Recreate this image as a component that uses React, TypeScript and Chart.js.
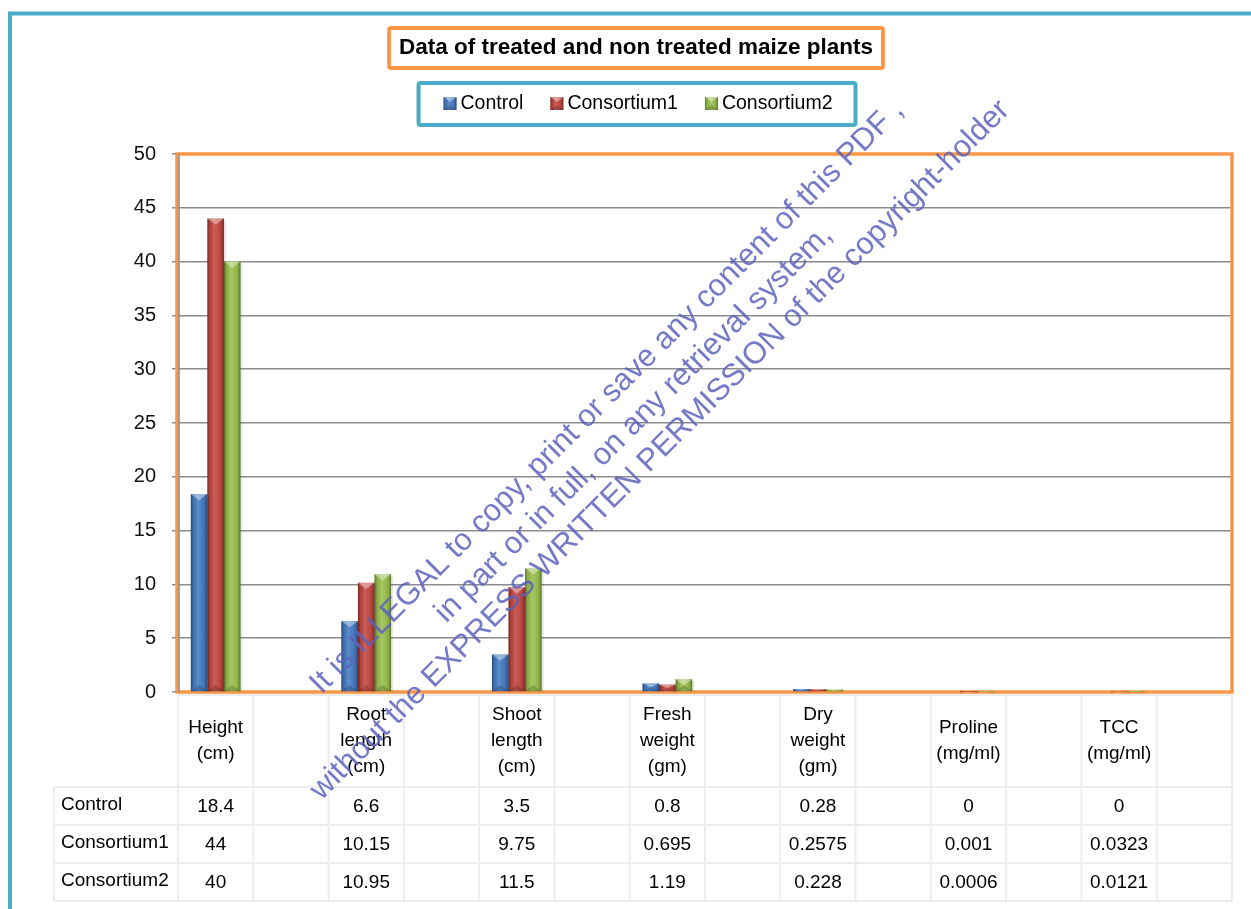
import React, { useEffect, useRef } from 'react';
import { Chart, registerables } from 'chart.js';

Chart.register(...registerables);

// ---- data ----
const chartTitle = 'Data of treated and non treated maize plants';
const categoryLabels: string[][] = [
  ['Height', '(cm)'],
  ['Root', 'length', '(cm)'],
  ['Shoot', 'length', '(cm)'],
  ['Fresh', 'weight', '(gm)'],
  ['Dry', 'weight', '(gm)'],
  ['Proline', '(mg/ml)'],
  ['TCC', '(mg/ml)'],
];
const seriesNames = ['Control', 'Consortium1', 'Consortium2'];
const controlValues = [18.4, 6.6, 3.5, 0.8, 0.28, 0, 0];
const consortium1Values = [44, 10.15, 9.75, 0.695, 0.2575, 0.001, 0.0323];
const consortium2Values = [40, 10.95, 11.5, 1.19, 0.228, 0.0006, 0.0121];
const yMin = 0;
const yMax = 50;
const yStep = 5;
const watermarkLines = [
  'It is ILLEGAL to copy, print or save any content of this PDF ,',
  'in part or in full, on any retrieval system,',
  'without the EXPRESS WRITTEN PERMISSION of the copyright-holder',
];

// ---- styling ----
const FONT = '"Liberation Sans", Arial, sans-serif';
const seriesColors = ['#4379c0', '#c0453f', '#97bd4a'];
const ORANGE = '#f79646';
const TEAL = '#4bacc6';

// every category is followed by an empty spacer column
const slotLabels: string[] = [];
categoryLabels.forEach((c) => {
  slotLabels.push(c.join(' '));
  slotLabels.push('');
});
const spread = (vals: number[]) => {
  const out: (number | null)[] = [];
  vals.forEach((v) => {
    out.push(v);
    out.push(null);
  });
  return out;
};
const seriesValues = [controlValues, consortium1Values, consortium2Values];

function drawBevel(ctx: CanvasRenderingContext2D, left: number, top: number, w: number, h: number) {
  if (h <= 0 || w <= 0) return;
  const g = ctx.createLinearGradient(left, 0, left + w, 0);
  g.addColorStop(0, 'rgba(0,0,0,0.38)');
  g.addColorStop(0.15, 'rgba(0,0,0,0.08)');
  g.addColorStop(0.4, 'rgba(255,255,255,0.14)');
  g.addColorStop(0.6, 'rgba(255,255,255,0.06)');
  g.addColorStop(0.85, 'rgba(0,0,0,0.1)');
  g.addColorStop(1, 'rgba(0,0,0,0.4)');
  ctx.fillStyle = g;
  ctx.fillRect(left, top, w, h);
  const th = Math.min(w * 0.38, h / 2);
  // light pyramid cap
  ctx.fillStyle = 'rgba(255,255,255,0.4)';
  ctx.beginPath();
  ctx.moveTo(left, top);
  ctx.lineTo(left + w, top);
  ctx.lineTo(left + w / 2, top + th);
  ctx.closePath();
  ctx.fill();
  // dark base
  ctx.fillStyle = 'rgba(0,0,0,0.18)';
  ctx.beginPath();
  ctx.moveTo(left, top + h);
  ctx.lineTo(left + w, top + h);
  ctx.lineTo(left + w / 2, top + h - th);
  ctx.closePath();
  ctx.fill();
}

const decorPlugin = {
  id: 'decor',
  beforeDatasetsDraw(chart: any) {
    const { ctx, chartArea: a } = chart;
    ctx.save();
    ctx.strokeStyle = ORANGE;
    ctx.lineWidth = 3.5;
    ctx.strokeRect(a.left - 1, a.top, a.right - a.left + 1, a.bottom - a.top);
    ctx.strokeStyle = '#8c8c8c';
    ctx.lineWidth = 1.5;
    ctx.beginPath();
    ctx.moveTo(a.left + 1, a.top);
    ctx.lineTo(a.left + 1, a.bottom);
    ctx.stroke();
    ctx.restore();
  },
  afterDatasetsDraw(chart: any) {
    const { ctx } = chart;
    ctx.save();
    chart.data.datasets.forEach((ds: any, di: number) => {
      const meta = chart.getDatasetMeta(di);
      meta.data.forEach((el: any, i: number) => {
        if (ds.data[i] == null) return;
        const p = el.getProps(['x', 'y', 'base', 'width'], true);
        const left = p.x - p.width / 2;
        const top = Math.min(p.y, p.base);
        const h = Math.abs(p.base - p.y);
        // soft shadow on the right side
        ctx.fillStyle = 'rgba(0,0,0,0.10)';
        ctx.fillRect(left + p.width, top + 2, 2, h - 2);
        drawBevel(ctx, left, top, p.width, h);
      });
    });
    ctx.restore();
  },
  afterDraw(chart: any) {
    const { ctx } = chart;
    const xs = chart.scales.x;
    const slots = slotLabels.length;
    const slotW = (xs.right - xs.left) / slots;
    ctx.save();

    // ---- data table ----
    const headTop = 695;
    const rowLines = [787, 825, 863, 901];
    const tableLeft = 54;
    ctx.strokeStyle = '#ededed';
    ctx.lineWidth = 2;
    ctx.beginPath();
    for (let i = 0; i <= slots; i++) {
      const bx = xs.left + i * slotW;
      ctx.moveTo(bx, headTop);
      ctx.lineTo(bx, rowLines[3]);
    }
    ctx.moveTo(tableLeft, rowLines[0]);
    ctx.lineTo(tableLeft, rowLines[3]);
    ctx.moveTo(xs.left, headTop);
    ctx.lineTo(xs.right, headTop);
    rowLines.forEach((ry) => {
      ctx.moveTo(tableLeft, ry);
      ctx.lineTo(xs.right, ry);
    });
    ctx.stroke();

    ctx.fillStyle = '#000';
    ctx.font = `19px ${FONT}`;
    ctx.textAlign = 'center';
    ctx.textBaseline = 'middle';
    const headMid = (headTop + rowLines[0]) / 2;
    const lh = 26;
    categoryLabels.forEach((lines, ci) => {
      const cx = xs.getPixelForValue(ci * 2);
      const y0 = headMid - ((lines.length - 1) * lh) / 2;
      lines.forEach((t, li) => ctx.fillText(t, cx, y0 + li * lh));
    });
    seriesValues.forEach((vals, si) => {
      const cy = (rowLines[si] + rowLines[si + 1]) / 2 + 1;
      vals.forEach((v, ci) => {
        ctx.fillText(String(v), xs.getPixelForValue(ci * 2), cy);
      });
    });
    ctx.textAlign = 'left';
    seriesNames.forEach((n, si) => {
      const cy = (rowLines[si] + rowLines[si + 1]) / 2 - 1;
      ctx.fillText(n, 61, cy);
    });

    // ---- title box ----
    const centerX = 636;
    ctx.font = `bold 22.5px ${FONT}`;
    const tw = ctx.measureText(chartTitle).width;
    ctx.strokeStyle = ORANGE;
    ctx.lineWidth = 4;
    ctx.beginPath();
    ctx.roundRect(centerX - tw / 2 - 10, 28, tw + 20, 40, 2);
    ctx.stroke();
    ctx.fillStyle = '#000';
    ctx.textAlign = 'center';
    ctx.fillText(chartTitle, centerX, 48);

    // ---- legend box ----
    ctx.font = `19.5px ${FONT}`;
    const mk = 13;
    const gapIn = 4;
    const gapOut = 27;
    const widths = seriesNames.map((n) => ctx.measureText(n).width);
    const total = widths.reduce((s, w) => s + mk + gapIn + w, 0) + gapOut * (seriesNames.length - 1);
    let lx = centerX + 2 - total / 2;
    ctx.strokeStyle = TEAL;
    ctx.lineWidth = 4;
    ctx.beginPath();
    ctx.roundRect(lx - 25, 83, total + 48, 42, 2);
    ctx.stroke();
    ctx.textAlign = 'left';
    seriesNames.forEach((n, si) => {
      ctx.fillStyle = seriesColors[si];
      ctx.fillRect(lx, 97, mk, mk);
      drawBevel(ctx, lx, 97, mk, mk);
      ctx.fillStyle = '#000';
      ctx.fillText(n, lx + mk + gapIn, 104);
      lx += mk + gapIn + widths[si] + gapOut;
    });

    // ---- outer frame ----
    ctx.strokeStyle = TEAL;
    ctx.lineWidth = 4;
    ctx.strokeRect(10, 13.5, 1400, 1000);

    // ---- watermark ----
    ctx.translate(640, 430);
    ctx.rotate(-Math.PI / 4);
    ctx.font = `31px ${FONT}`;
    ctx.fillStyle = 'rgba(92,98,190,0.85)';
    ctx.textAlign = 'center';
    ctx.textBaseline = 'alphabetic';
    const offs = [-38, 0, 37];
    watermarkLines.forEach((t, i) => ctx.fillText(t, 0, offs[i]));
    ctx.restore();
  },
};

export default function App() {
  const ref = useRef<HTMLCanvasElement>(null);
  useEffect(() => {
    if (!ref.current) return;
    Chart.defaults.font.family = FONT;
    const chart = new Chart(ref.current, {
      type: 'bar',
      data: {
        labels: slotLabels,
        datasets: seriesNames.map((n, si) => ({
          label: n,
          data: spread(seriesValues[si]),
          backgroundColor: seriesColors[si],
          borderWidth: 0,
          categoryPercentage: 0.66,
          barPercentage: 1,
          skipNull: false,
        })) as any,
      },
      options: {
        responsive: false,
        animation: false,
        devicePixelRatio: 1,
        layout: { padding: { left: 20, top: 154, right: 19, bottom: 217 } },
        plugins: {
          legend: { display: false },
          title: { display: false },
          tooltip: { enabled: false },
        },
        scales: {
          x: { display: false, offset: true, grid: { display: false } },
          y: {
            min: yMin,
            max: yMax,
            ticks: { stepSize: yStep, color: '#111', font: { size: 20, family: FONT }, padding: 16 },
            grid: { color: '#8c8c8c', lineWidth: 1.5, tickLength: 6, drawTicks: true },
            border: { display: false },
            afterFit: (scale: any) => {
              scale.width = 158;
            },
          } as any,
        },
      },
      plugins: [decorPlugin],
    });
    return () => chart.destroy();
  }, []);
  return (
    <div style={{ position: 'fixed', left: 0, top: 0, width: 1251, height: 909, background: '#fff' }}>
      <canvas ref={ref} width={1251} height={909} style={{ width: 1251, height: 909 }} />
    </div>
  );
}
